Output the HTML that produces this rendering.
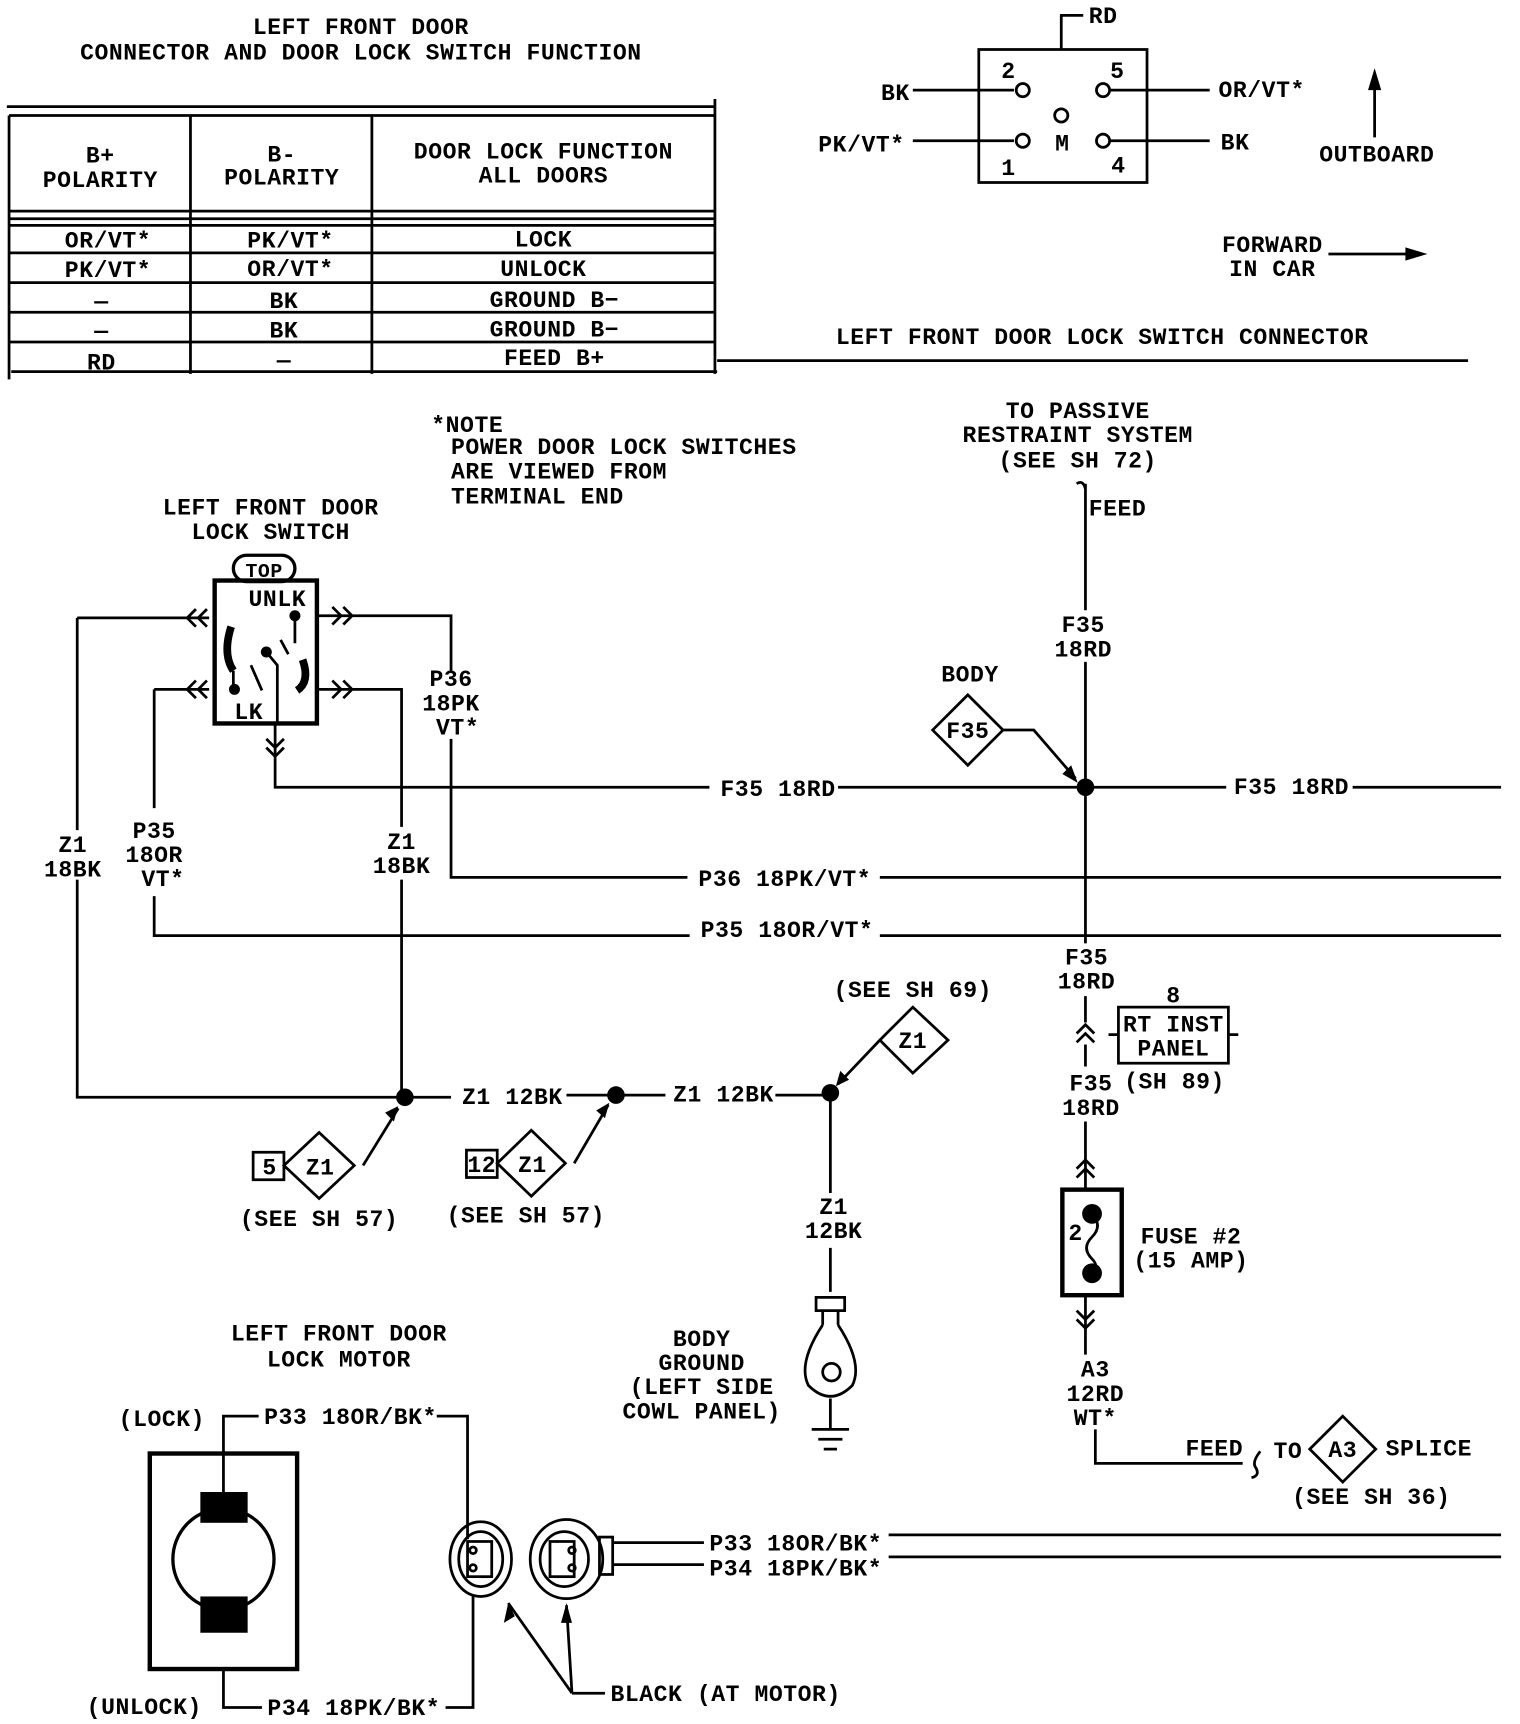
<!DOCTYPE html>
<html><head><meta charset="utf-8"><style>
html,body{margin:0;padding:0;background:#fff;width:1520px;height:1724px;overflow:hidden}
svg{display:block}
text{font-family:"Liberation Mono",monospace;font-size:21px;letter-spacing:0.5px;fill:#000;font-weight:bold}
.m{text-anchor:middle}
</style></head><body>
<svg width="1520" height="1724" viewBox="0 0 1382 1568" xmlns="http://www.w3.org/2000/svg">
<g fill="none" stroke="#000" stroke-width="2.5">
<path d="M6 97H649M8 105H650M8 105V345M173 105V340M338 105V340M650 90V340M8 192H650M8 199H650M8 205H650M8 230H650M8 257H650M8 284H650M8 311H650M10 338H652M652 328H1335"/>
<path d="M890 45H1043V166H890Z"/>
<path d="M965 45V14H985M830 82H922M1010 82H1100M830 128H922M1010 128H1100"/>
<circle cx="930" cy="82" r="6"/><circle cx="1003" cy="82" r="6"/><circle cx="965" cy="105" r="6"/><circle cx="930" cy="128" r="6"/><circle cx="1003" cy="128" r="6"/>
<path d="M1250 125V75M1208 231H1280"/>
<path d="M987 440V450M979 440Q985 436 987 445M987 450V555M987 602V858M987 906V930M987 950V970M987 1020V1058M987 1058V1082M987 1178V1232M996 1300V1331H1130M1146 1320Q1138 1330 1142 1335Q1146 1342 1138 1344"/>
<path d="M979 940L987 932L995 940M979 948L987 940L995 948M979 1063L987 1055L995 1063M979 1071L987 1063L995 1071M979 1192L987 1200L995 1192M979 1200L987 1208L995 1200"/>
<rect x="1017" y="916" width="100" height="51"/><path d="M1008 941H1017M1117 941H1126"/>
<rect x="966" y="1082" width="54" height="96" stroke-width="4"/>
<path d="M993 1104Q1003 1115 993 1125Q983 1135 993 1145Q1000 1152 993 1158"/>
<path d="M250 690V716H645M762 716H1115M1230 716H1365M288 560H410V610M410 672V798H625M800 798H1365M140 627V735M140 815V851H627M800 851H1365M70 562V755M70 800V998H410M288 627H365V752M365 800V998M515 996H605M705 996H755M755 996V1085M755 1135V1175"/>
<rect x="195" y="528" width="93" height="130" stroke-width="4"/>
<rect x="212" y="505" width="56" height="24" rx="12" stroke-width="3"/>
<path d="M70 562H190M140 627H190M250 658V690"/>
<path d="M178 554L170 562L178 570M188 554L180 562L188 570M178 619L170 627L178 635M188 619L180 627L188 635M302 552L310 560L302 568M312 552L320 560L312 568M302 619L310 627L302 635M312 619L320 627L312 635M242 672L250 680L258 672M242 680L250 688L258 680"/>
<path d="M210 570Q202 595 212 610" stroke-width="7"/><path d="M275 600Q282 620 270 628" stroke-width="7"/>
<path d="M212 610V627M268 560V585M242 593L252 605V658M228 605L238 628M255 582L262 595"/>
<path d="M848 664L880 632L912 664L880 696Z M912 664H940L978 708"/>
<path d="M258 1060L290 1030L322 1060L290 1090Z M230 1048H258V1073H230Z M330 1060L362 1008"/>
<path d="M452 1058L483 1028L514 1058L483 1088Z M424 1046H452V1071H424Z M522 1058L553 1005"/>
<path d="M800 946L830 916L862 946L830 976Z M800 946L762 986"/>
<path d="M1191 1318L1221 1288L1251 1318L1221 1348Z"/>
<path d="M742 1180H768V1192H742Z M748 1192V1205M762 1192V1205M748 1205Q725 1240 735 1260Q755 1280 775 1260Q785 1240 762 1205M755 1272V1300M738 1300H772M744 1309H766M749 1318H761"/>
<circle cx="756" cy="1248" r="8"/>
<rect x="136" y="1322" width="134" height="196" stroke-width="4"/>
<circle cx="203" cy="1418" r="46" stroke-width="3"/>
<path d="M203 1357V1288H235M397 1288H425V1400M203 1518V1553H238M405 1553H430V1450"/>
<ellipse cx="437" cy="1418" rx="28" ry="34"/><ellipse cx="437" cy="1418" rx="20" ry="25"/>
<rect x="425" y="1402" width="22" height="32"/><circle cx="430" cy="1410" r="3"/><circle cx="430" cy="1426" r="3"/>
<ellipse cx="515" cy="1418" rx="33" ry="36"/><ellipse cx="513" cy="1418" rx="22" ry="25"/>
<rect x="500" y="1402" width="22" height="32"/><circle cx="520" cy="1410" r="3"/><circle cx="520" cy="1426" r="3"/>
<rect x="545" y="1398" width="12" height="34"/>
<path d="M557 1403H640M557 1423H640M808 1396H1365M808 1416H1365M520 1540L462 1458M520 1540L515 1460M550 1540H520"/>
</g>
<g fill="#000">
<circle cx="987" cy="716" r="8"/><circle cx="368" cy="998" r="8"/><circle cx="560" cy="996" r="8"/><circle cx="755" cy="994" r="8"/>
<circle cx="993" cy="1104" r="9"/><circle cx="993" cy="1158" r="9"/>
<circle cx="213" cy="627" r="5"/><circle cx="268" cy="560" r="5"/><circle cx="242" cy="593" r="5"/>
<rect x="182" y="1357" width="43" height="28"/><rect x="182" y="1452" width="43" height="33"/>
<path d="M1250 62L1244 82H1256Z M1298 231L1278 225V237Z M980 712L966 704L974 696Z M362 1006L350 1012L358 1020Z M554 1003L542 1010L550 1017Z M760 988L764 974L772 982Z M462 1458L458 1476L468 1470Z M515 1458L510 1476L520 1476Z"/>
</g>
<g>
<text class="m" x="328" y="31">LEFT FRONT DOOR</text>
<text class="m" x="328" y="54">CONNECTOR AND DOOR LOCK SWITCH FUNCTION</text>
<text class="m" x="91" y="148">B+</text><text class="m" x="91" y="170">POLARITY</text>
<text class="m" x="256" y="147">B-</text><text class="m" x="256" y="168">POLARITY</text>
<text class="m" x="494" y="144">DOOR LOCK FUNCTION</text><text class="m" x="494" y="166">ALL DOORS</text>
<text class="m" x="98" y="225">OR/VT*</text><text class="m" x="264" y="225">PK/VT*</text><text class="m" x="494" y="224">LOCK</text>
<text class="m" x="98" y="252">PK/VT*</text><text class="m" x="264" y="251">OR/VT*</text><text class="m" x="494" y="251">UNLOCK</text>
<text class="m" x="92" y="280">—</text><text class="m" x="258" y="280">BK</text><text class="m" x="504" y="279">GROUND B−</text>
<text class="m" x="92" y="307">—</text><text class="m" x="258" y="307">BK</text><text class="m" x="504" y="306">GROUND B−</text>
<text class="m" x="92" y="336">RD</text><text class="m" x="258" y="334">—</text><text class="m" x="504" y="332">FEED B+</text>
<text x="990" y="21">RD</text>
<text class="m" x="917" y="71">2</text><text class="m" x="1016" y="71">5</text><text class="m" x="966" y="137">M</text>
<text class="m" x="917" y="159">1</text><text class="m" x="1017" y="157">4</text>
<text x="801" y="91">BK</text><text x="1108" y="88">OR/VT*</text><text x="744" y="138">PK/VT*</text><text x="1110" y="136">BK</text>
<text class="m" x="1252" y="147">OUTBOARD</text>
<text class="m" x="1157" y="229">FORWARD</text><text class="m" x="1157" y="251">IN CAR</text>
<text x="760" y="313">LEFT FRONT DOOR LOCK SWITCH CONNECTOR</text>
<text x="392" y="393">*NOTE</text>
<text x="410" y="413">POWER DOOR LOCK SWITCHES</text>
<text x="410" y="435">ARE VIEWED FROM</text>
<text x="410" y="458">TERMINAL END</text>
<text class="m" x="980" y="380">TO PASSIVE</text><text class="m" x="980" y="402">RESTRAINT SYSTEM</text><text class="m" x="980" y="425">(SEE SH 72)</text>
<text x="990" y="469">FEED</text>
<text class="m" x="985" y="575">F35</text><text class="m" x="985" y="597">18RD</text>
<text class="m" x="882" y="620">BODY</text><text class="m" x="880" y="671">F35</text>
<text class="m" x="246" y="468">LEFT FRONT DOOR</text><text class="m" x="246" y="490">LOCK SWITCH</text>
<text class="m" x="240" y="525" style="font-size:18px">TOP</text>
<text class="m" x="252" y="551">UNLK</text><text class="m" x="226" y="654">LK</text>
<text class="m" x="410" y="624">P36</text><text class="m" x="410" y="646">18PK</text><text class="m" x="416" y="668">VT*</text>
<text x="655" y="724">F35 18RD</text><text x="1122" y="722">F35 18RD</text>
<text x="635" y="806">P36 18PK/VT*</text><text x="637" y="852">P35 18OR/VT*</text>
<text class="m" x="66" y="775">Z1</text><text class="m" x="66" y="797">18BK</text>
<text class="m" x="140" y="762">P35</text><text class="m" x="140" y="784">18OR</text><text class="m" x="148" y="806">VT*</text>
<text class="m" x="365" y="772">Z1</text><text class="m" x="365" y="794">18BK</text>
<text class="m" x="988" y="877">F35</text><text class="m" x="988" y="899">18RD</text>
<text class="m" x="1067" y="912">8</text>
<text class="m" x="1067" y="938">RT INST</text><text class="m" x="1067" y="960">PANEL</text>
<text class="m" x="1068" y="990">(SH 89)</text>
<text class="m" x="992" y="992">F35</text><text class="m" x="992" y="1014">18RD</text>
<text class="m" x="978" y="1128">2</text>
<text class="m" x="1083" y="1131">FUSE #2</text><text class="m" x="1083" y="1153">(15 AMP)</text>
<text class="m" x="996" y="1252">A3</text><text class="m" x="996" y="1274">12RD</text><text class="m" x="996" y="1296">WT*</text>
<text x="1078" y="1324">FEED</text><text x="1158" y="1326">TO</text><text class="m" x="1221" y="1325">A3</text><text x="1260" y="1324">SPLICE</text>
<text class="m" x="1247" y="1368">(SEE SH 36)</text>
<text class="m" x="830" y="907">(SEE SH 69)</text><text class="m" x="830" y="953">Z1</text>
<text x="420" y="1004">Z1 12BK</text><text x="612" y="1002">Z1 12BK</text>
<text class="m" x="245" y="1068">5</text><text class="m" x="291" y="1068">Z1</text><text class="m" x="290" y="1115">(SEE SH 57)</text>
<text class="m" x="438" y="1066">12</text><text class="m" x="484" y="1066">Z1</text><text class="m" x="478" y="1112">(SEE SH 57)</text>
<text class="m" x="758" y="1104">Z1</text><text class="m" x="758" y="1126">12BK</text>
<text class="m" x="638" y="1224">BODY</text><text class="m" x="638" y="1246">GROUND</text><text class="m" x="638" y="1268">(LEFT SIDE</text><text class="m" x="638" y="1290">COWL PANEL)</text>
<text class="m" x="308" y="1219">LEFT FRONT DOOR</text><text class="m" x="308" y="1243">LOCK MOTOR</text>
<text class="m" x="147" y="1297">(LOCK)</text><text x="240" y="1295">P33 18OR/BK*</text>
<text class="m" x="131" y="1559">(UNLOCK)</text><text x="243" y="1560">P34 18PK/BK*</text>
<text x="645" y="1410">P33 18OR/BK*</text><text x="645" y="1433">P34 18PK/BK*</text>
<text x="555" y="1547">BLACK (AT MOTOR)</text>
</g>
</svg>
</body></html>
